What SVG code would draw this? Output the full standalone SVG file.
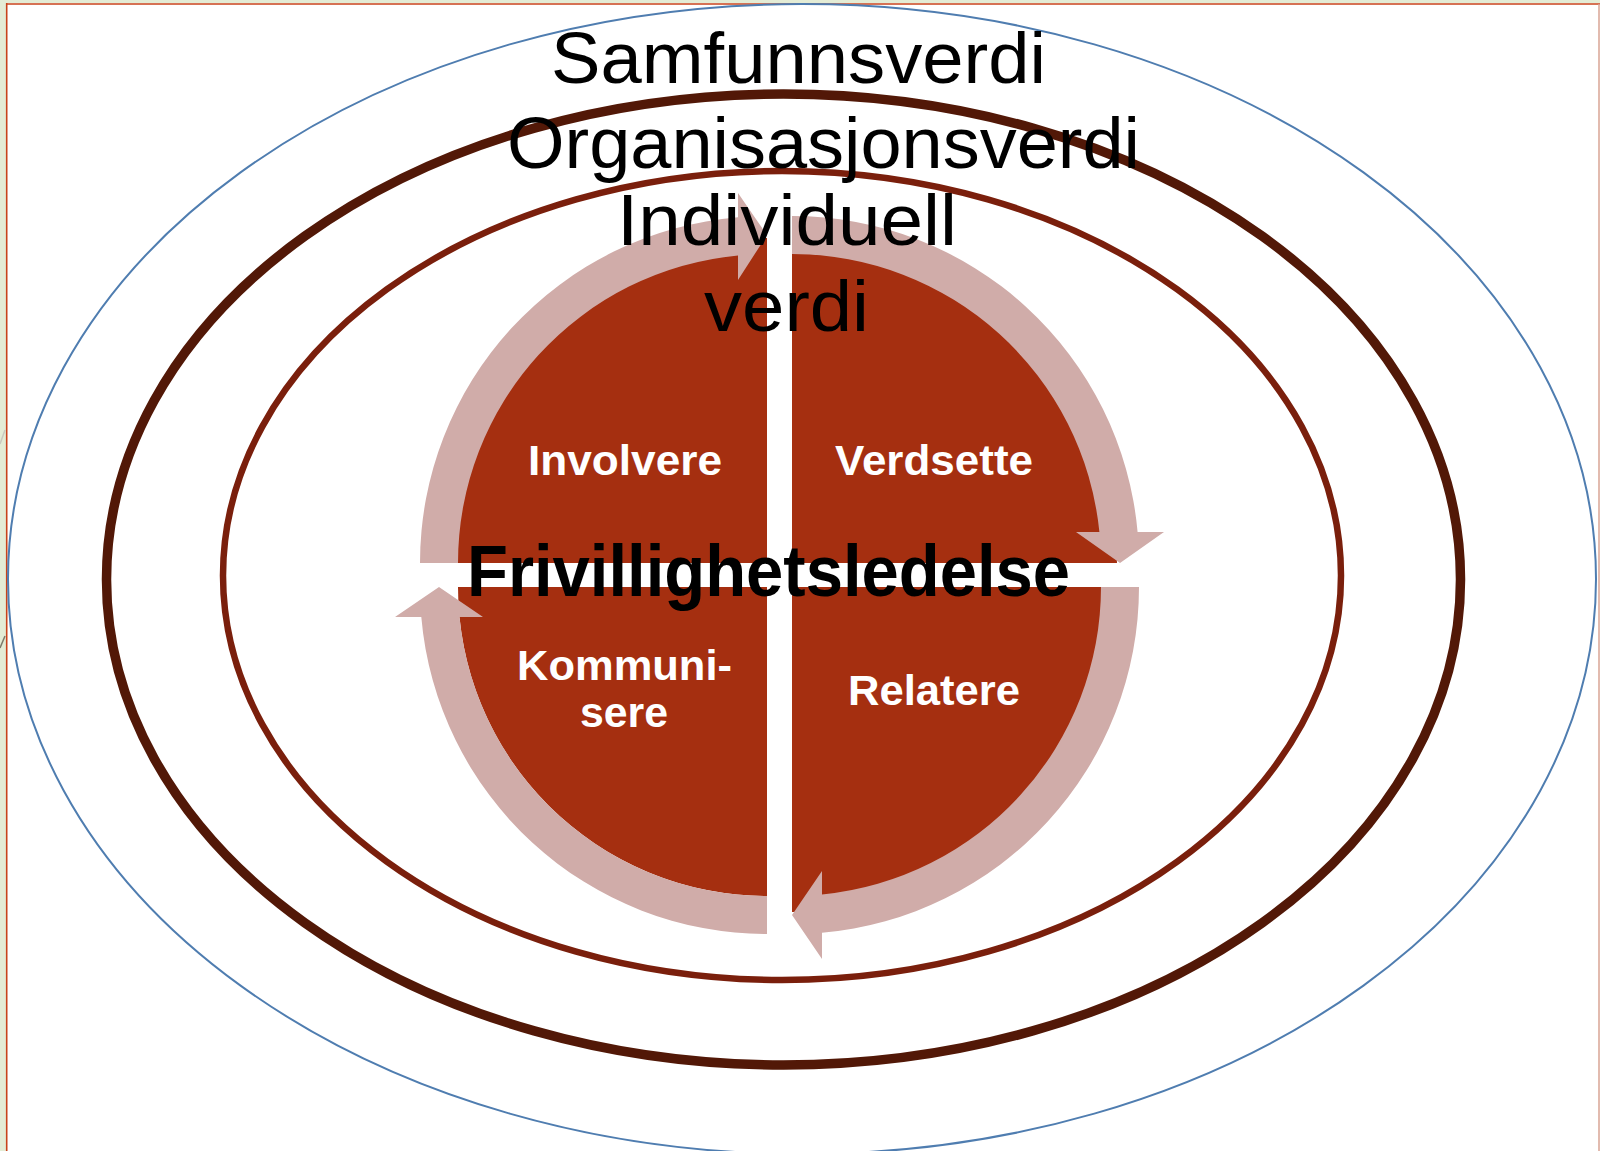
<svg xmlns="http://www.w3.org/2000/svg" width="1600" height="1151" viewBox="0 0 1600 1151">
  <style>
    .ring-title { font-family: "Liberation Sans", Arial, sans-serif; font-size: 72px; fill: #000000; }
    .quad { font-family: "Liberation Sans", Arial, sans-serif; font-weight: bold; font-size: 42px; fill: #FFFFFF; text-anchor: start; }
    .center { font-family: "Liberation Sans", Arial, sans-serif; font-weight: bold; font-size: 72px; fill: #000000; }
    .pie { fill: #A52F10; }
    .band { fill: #D0ACA9; }
  </style>
  <rect x="0" y="0" width="1600" height="1151" fill="#FFFFFF"/>
  <rect x="0" y="0" width="6" height="1151" fill="#E4ECD5"/>
  <rect x="0" y="0" width="1600" height="3" fill="#E4ECD5"/>
  <line x1="6.7" y1="3" x2="6.7" y2="1151" stroke="#C8431B" stroke-width="1.6"/>
  <line x1="6" y1="4" x2="1600" y2="4" stroke="#C8431B" stroke-width="1.6"/>
  <line x1="1599" y1="4" x2="1599" y2="1151" stroke="#D8A595" stroke-width="1.5"/>
  <path d="M0,444 L5,430" stroke="#C9C9BF" stroke-width="1.5" fill="none"/>
  <path d="M0,648 L5,636" stroke="#7C7A6A" stroke-width="1.5" fill="none"/>

  <g id="ring-samfunn">
    <ellipse cx="802" cy="579" rx="794" ry="575" fill="none" stroke="#4F7DB0" stroke-width="2"/>
  </g>
  <g id="ring-organisasjon">
    <ellipse cx="783.5" cy="579.5" rx="677" ry="485.5" fill="none" stroke="#521807" stroke-width="9.5"/>
  </g>
  <g id="ring-individ">
    <ellipse cx="782" cy="575.5" rx="559" ry="404.5" fill="none" stroke="#7A1F0C" stroke-width="6.5"/>
  </g>

  <g id="quad-involvere">
    <path class="pie" d="M767,563 L442,563 A325,325 0 0 1 767,238 Z"/>
  </g>
  <g id="quad-verdsette">
    <path class="pie" d="M792,563 L792,238 A325,325 0 0 1 1117,563 Z"/>
  </g>
  <g id="quad-relatere">
    <path class="pie" d="M792,587 L1117,587 A325,325 0 0 1 792,912 Z"/>
  </g>
  <g id="quad-kommunisere">
    <path class="pie" d="M767,587 L767,896 A309,309 0 0 1 458,587 Z"/>
  </g>

  <g id="connectors">
    <path class="band" d="M420,563 A347,347 0 0 1 738,217.2 L738,193 L767,235 L738,280 L738,255.4 A309,309 0 0 0 458,563 Z"/>
    <path class="band" d="M792,216 A347,347 0 0 1 1137.6,532 L1164,532 L1120,563 L1076,532 L1099.4,532 A309,309 0 0 0 792,254 Z"/>
    <path class="band" d="M1139,587 A347,347 0 0 1 822,932.7 L822,959 L792,915 L822,871 L822,894.5 A309,309 0 0 0 1101,587 Z"/>
    <path class="band" d="M767,934 A347,347 0 0 1 421.3,617 L395,617 L439,587 L483,617 L459.5,617 A309,309 0 0 0 767,896 Z"/>
  </g>

  <g id="labels-rings">
    <text class="ring-title" x="551" y="83" textLength="495" lengthAdjust="spacingAndGlyphs">Samfunnsverdi</text>
    <text class="ring-title" x="507" y="168" textLength="633" lengthAdjust="spacingAndGlyphs">Organisasjonsverdi</text>
    <text class="ring-title" x="617" y="245" textLength="340" lengthAdjust="spacingAndGlyphs">Individuell</text>
    <text class="ring-title" x="704" y="331" textLength="165" lengthAdjust="spacingAndGlyphs">verdi</text>
  </g>

  <g id="label-involvere">
    <text class="quad" x="528" y="475" textLength="194" lengthAdjust="spacingAndGlyphs">Involvere</text>
  </g>
  <g id="label-verdsette">
    <text class="quad" x="835" y="475" textLength="198" lengthAdjust="spacingAndGlyphs">Verdsette</text>
  </g>
  <g id="label-relatere">
    <text class="quad" x="848" y="705" textLength="172" lengthAdjust="spacingAndGlyphs">Relatere</text>
  </g>
  <g id="label-kommunisere">
    <text class="quad" x="517" y="680" textLength="215" lengthAdjust="spacingAndGlyphs">Kommuni-</text>
    <text class="quad" x="580" y="727" textLength="88" lengthAdjust="spacingAndGlyphs">sere</text>
  </g>
  <g id="label-center">
    <text class="center" x="467" y="596" textLength="603" lengthAdjust="spacingAndGlyphs">Frivillighetsledelse</text>
  </g>
</svg>
